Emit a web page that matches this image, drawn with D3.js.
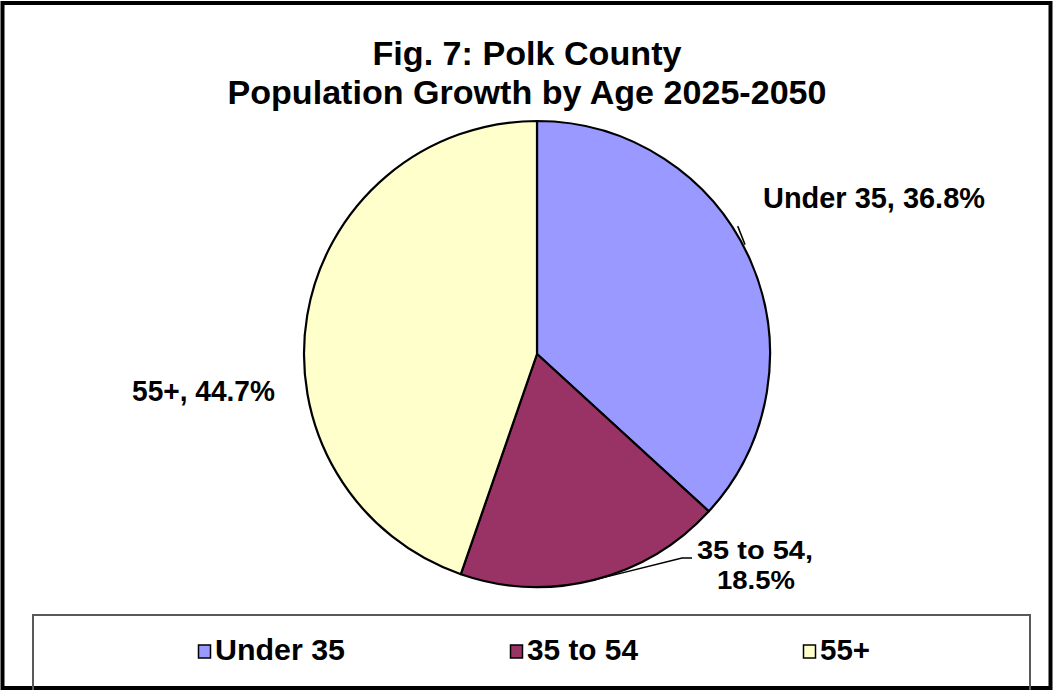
<!DOCTYPE html>
<html>
<head>
<meta charset="utf-8">
<script src="https://cdn.jsdelivr.net/npm/d3@7"></script>
<style>
  html, body { margin: 0; padding: 0; background: #fff; }
  svg { display: block; }
  text { font-family: Arial, "Liberation Sans", sans-serif; font-weight: bold; fill: #000; }
</style>
</head>
<body>
<svg id="chart" width="1053" height="690"></svg>
<script>
// Age groups and their share of population growth, 2025-2050
const categories = ["Under 35", "35 to 54", "55+"];
const shares = [36.8, 18.5, 44.7];
const colors = ["#9999FF", "#993366", "#FFFFCC"];
const titleLines = ["Fig. 7: Polk County", "Population Growth by Age 2025-2050"];

const W = 1053, H = 690;
const cx = 537, cy = 354, R = 233;

const svg = d3.select("#chart");

// Chart frame
svg.append("rect")
  .attr("x", 2.5).attr("y", 3).attr("width", W - 5).attr("height", H - 5)
  .attr("fill", "#fff").attr("stroke", "#000").attr("stroke-width", 4);

// Title
const titleY = [65, 104];
const titleLen = [309, 599];
titleLines.forEach((t, i) => {
  svg.append("text")
    .attr("x", 527).attr("y", titleY[i])
    .attr("text-anchor", "middle")
    .attr("font-size", 34)
    .attr("textLength", titleLen[i])
    .attr("lengthAdjust", "spacingAndGlyphs")
    .text(t);
});

// Pie, starting at 12 o'clock and running clockwise
const data = categories.map((c, i) => ({ cat: c, value: shares[i], color: colors[i] }));
const pie = d3.pie().value(d => d.value).sort(null);
const arcs = pie(data);
const arc = d3.arc().innerRadius(0).outerRadius(R);

const g = svg.append("g").attr("transform", `translate(${cx},${cy})`);
g.selectAll("path.slice")
  .data(arcs)
  .join("path")
  .attr("class", "slice")
  .attr("d", arc)
  .attr("fill", d => d.data.color)
  .attr("stroke", "#000")
  .attr("stroke-width", 2.2)
  .attr("stroke-linejoin", "round");

// Data labels: "<category>, <value>%"
const fmt = v => d3.format(".1f")(v) + "%";
const labelFont = 29;

// Under 35, with a short leader tick off the rim
const a0 = arcs[0];
{
  const span = a0.endAngle - a0.startAngle;
  const base = d3.pointRadial(a0.startAngle + span * 0.47, R + 2);
  const tip = d3.pointRadial(a0.startAngle + span * 0.434, R + 5);
  g.append("line")
    .attr("x1", base[0]).attr("y1", base[1]).attr("x2", tip[0]).attr("y2", tip[1])
    .attr("stroke", "#000").attr("stroke-width", 1.5);
  svg.append("text")
    .attr("x", 763).attr("y", 208)
    .attr("font-size", labelFont)
    .attr("textLength", 222).attr("lengthAdjust", "spacingAndGlyphs")
    .text(`${a0.data.cat}, ${fmt(a0.data.value)}`);
}

// 35 to 54, with an elbow leader from the slice edge
const a1 = arcs[1];
{
  const mid = (a1.startAngle + a1.endAngle) / 2;
  const p0 = d3.pointRadial(mid, R);
  const elbow = [145, 204], end = [155, 204];
  g.append("polyline")
    .attr("points", [p0, elbow, end].map(p => p.join(",")).join(" "))
    .attr("fill", "none").attr("stroke", "#000").attr("stroke-width", 1.5);
  svg.append("text")
    .attr("x", 697).attr("y", 559)
    .attr("font-size", 26)
    .attr("textLength", 116).attr("lengthAdjust", "spacingAndGlyphs")
    .text(`${a1.data.cat},`);
  svg.append("text")
    .attr("x", 717).attr("y", 589)
    .attr("font-size", 26)
    .attr("textLength", 78).attr("lengthAdjust", "spacingAndGlyphs")
    .text(fmt(a1.data.value));
}

// 55+
const a2 = arcs[2];
svg.append("text")
  .attr("x", 132).attr("y", 401)
  .attr("font-size", labelFont)
  .attr("textLength", 143).attr("lengthAdjust", "spacingAndGlyphs")
  .text(`${a2.data.cat}, ${fmt(a2.data.value)}`);

// Legend box
svg.append("rect")
  .attr("x", 33).attr("y", 615).attr("width", 997).attr("height", 90)
  .attr("fill", "none").attr("stroke", "#595959").attr("stroke-width", 2);

const legendX = [198, 510, 803];
const legendLen = [130, 111, 50];
const lg = svg.append("g").selectAll("g")
  .data(data)
  .join("g")
  .attr("transform", (d, i) => `translate(${legendX[i]},0)`);
lg.append("rect")
  .attr("x", 0.5).attr("y", 645).attr("width", 12).attr("height", 13)
  .attr("fill", d => d.color).attr("stroke", "#000").attr("stroke-width", 1.5);
lg.append("text")
  .attr("x", 17).attr("y", 660)
  .attr("font-size", 29)
  .attr("textLength", (d, i) => legendLen[i]).attr("lengthAdjust", "spacingAndGlyphs")
  .text(d => d.cat);
</script>
</body>
</html>
